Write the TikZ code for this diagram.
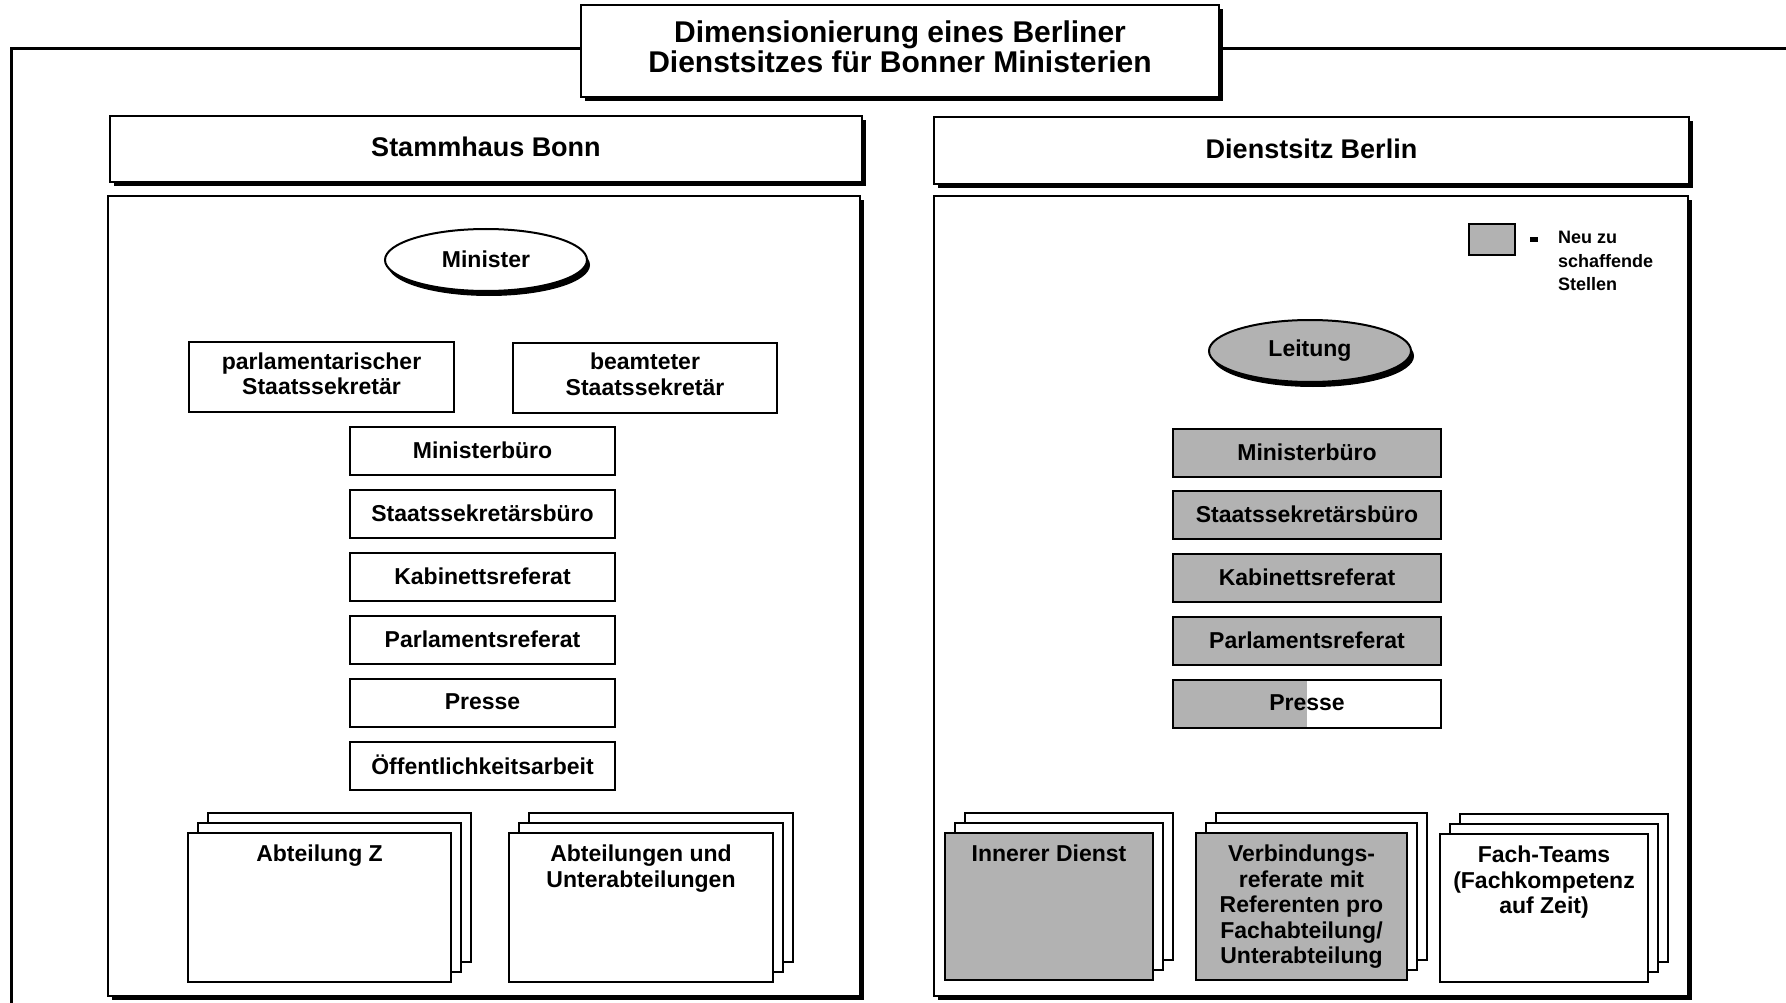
\documentclass[tikz,border=0pt]{standalone}
\usepackage{fontspec}
\setmainfont{Liberation Sans}
\usetikzlibrary{shadows,shapes.geometric}
\begin{document}
\begin{tikzpicture}[x=1pt,y=-1pt,
  stip/.style={fill=black!30},
  shad/.style={drop shadow={shadow xshift=4pt,shadow yshift=-4pt,opacity=1,fill=black}},
  bx/.style={draw,line width=2pt,fill=white,inner sep=0pt,align=center,
             font=\fontsize{23}{25.5}\selectfont\bfseries},
  bigbx/.style={bx,line width=2.4pt,shad},
  sheet/.style={draw,line width=2pt,fill=white,inner sep=0pt},
  txt/.style={inner sep=0pt,align=center,font=\fontsize{23}{25.5}\selectfont\bfseries},
  ell/.style={bx,ellipse,minimum width=202,minimum height=62,
              drop shadow={shadow xshift=3pt,shadow yshift=-5pt,opacity=1,fill=black}},
]
\useasboundingbox (0,0) rectangle (1786,1003);
\fill[white] (0,0) rectangle (1786,1003);

% outer frame
\coordinate (fbl) at (11,1003);
\coordinate (ftl) at (11,49);
\coordinate (ftr) at (1786,49);
\draw[line width=3pt] (fbl) -- (ftl) -- (ftr);

% title
\node[bigbx,line width=2.8pt,minimum width=638,minimum height=92,
      font=\fontsize{30}{29.6}\selectfont\bfseries] (title) at (900,51)
  {\raisebox{0.5pt}{\begin{tabular}{@{}c@{}}Dimensionierung eines Berliner\\Dienstsitzes für Bonner Ministerien\end{tabular}}};

% headers
\node[bigbx,minimum width=752,minimum height=66,font=\fontsize{27}{28}\selectfont\bfseries]
  (hbonn) at (486,149) {\raisebox{4pt}{Stammhaus Bonn}};
\node[bigbx,minimum width=755,minimum height=67,font=\fontsize{27}{28}\selectfont\bfseries]
  (hberlin) at (1311.5,150.5) {\raisebox{3pt}{Dienstsitz Berlin}};

% panels
\node[bigbx,minimum width=752,minimum height=800] (pbonn) at (484,596) {};
\node[bigbx,minimum width=754,minimum height=800] (pberlin) at (1311,596) {};

% ----- Bonn -----
\node[ell] (minister) at (486,260) {\raisebox{2pt}{Minister}};
\node[bx,minimum width=265,minimum height=70] (pst) at (321.5,377)
  {\raisebox{0.5pt}{\begin{tabular}{@{}c@{}}parlamentarischer\\Staatssekretär\end{tabular}}};
\node[bx,minimum width=264,minimum height=70] (bst) at (645,377.5)
  {\raisebox{0.5pt}{\begin{tabular}{@{}c@{}}beamteter\\Staatssekretär\end{tabular}}};
\node[bx,minimum width=265,minimum height=48] (lmb) at (482.5,451) {\raisebox{2pt}{Ministerbüro}};
\node[bx,minimum width=265,minimum height=48] (lssb) at (482.5,514) {\raisebox{2pt}{Staatssekretärsbüro}};
\node[bx,minimum width=265,minimum height=48] (lkr) at (482.5,577) {\raisebox{2pt}{Kabinettsreferat}};
\node[bx,minimum width=265,minimum height=48] (lpr) at (482.5,640) {\raisebox{2pt}{Parlamentsreferat}};
\node[bx,minimum width=265,minimum height=48] (lpresse) at (482.5,703) {\raisebox{2pt}{Presse}};
\node[bx,minimum width=265,minimum height=48] (loeff) at (482.5,766) {\raisebox{2pt}{Öffentlichkeitsarbeit}};

% stack Abteilung Z
\node[sheet,minimum width=263,minimum height=149] (azc) at (339.5,887.5) {};
\node[sheet,minimum width=263,minimum height=149] (azb) at (329.5,897.5) {};
\node[sheet,minimum width=263,minimum height=149] (aza) at (319.5,907.5) {};
\node[txt,anchor=north] (azt) at (319.5,845) {Abteilung Z};

% stack Abteilungen
\node[sheet,minimum width=264,minimum height=149] (auc) at (661,887.5) {};
\node[sheet,minimum width=264,minimum height=149] (aub) at (651,897.5) {};
\node[sheet,minimum width=264,minimum height=149] (aua) at (641,907.5) {};
\node[txt,anchor=north] (aut) at (641,845) {Abteilungen und\\Unterabteilungen};

% ----- Berlin -----
\node[bx,stip,minimum width=46,minimum height=31] (legbox) at (1492,239.5) {};
\node[fill=black,inner sep=0pt,minimum width=8,minimum height=5] (legdash) at (1534,239.5) {};
\node[inner sep=0pt,anchor=west,align=left,font=\fontsize{18}{23.5}\selectfont\bfseries]
  (legtxt) at (1558,261) {Neu zu\\schaffende\\Stellen};

\node[ell,stip] (leitung) at (1310,351) {\raisebox{2pt}{Leitung}};
\node[bx,stip,minimum width=268,minimum height=48] (rmb) at (1307,453) {\raisebox{2pt}{Ministerbüro}};
\node[bx,stip,minimum width=268,minimum height=48] (rssb) at (1307,515) {\raisebox{2pt}{Staatssekretärsbüro}};
\node[bx,stip,minimum width=268,minimum height=48] (rkr) at (1307,578) {\raisebox{2pt}{Kabinettsreferat}};
\node[bx,stip,minimum width=268,minimum height=48] (rpr) at (1307,641) {\raisebox{2pt}{Parlamentsreferat}};
\node[bx,minimum width=268,minimum height=48,
      path picture={\fill[black!30] (path picture bounding box.north west) rectangle (path picture bounding box.south);}]
  (rpresse) at (1307,704) {\raisebox{2pt}{Presse}};

% stack Innerer Dienst
\node[sheet,minimum width=208,minimum height=147] (idc) at (1069,886.5) {};
\node[sheet,minimum width=208,minimum height=147] (idb) at (1059,896.5) {};
\node[sheet,stip,minimum width=208,minimum height=147] (ida) at (1049,906.5) {};
\node[txt,anchor=north] (idt) at (1049,845) {Innerer Dienst};

% stack Verbindungsreferate
\node[sheet,minimum width=211,minimum height=147] (vrc) at (1321.5,886.5) {};
\node[sheet,minimum width=211,minimum height=147] (vrb) at (1311.5,896.5) {};
\node[sheet,stip,minimum width=211,minimum height=147] (vra) at (1301.5,906.5) {};
\node[txt,anchor=north] (vrt) at (1301.5,845)
  {Verbindungs-\\referate mit\\Referenten pro\\Fachabteilung/\\Unterabteilung};

% stack Fach-Teams
\node[sheet,minimum width=208,minimum height=148] (ftc) at (1564,888) {};
\node[sheet,minimum width=208,minimum height=148] (ftb) at (1554,898) {};
\node[sheet,minimum width=208,minimum height=148] (fta) at (1544,908) {};
\node[txt,anchor=north] (ftt) at (1544,846) {Fach-Teams\\(Fachkompetenz\\auf Zeit)};
\end{tikzpicture}
\end{document}
